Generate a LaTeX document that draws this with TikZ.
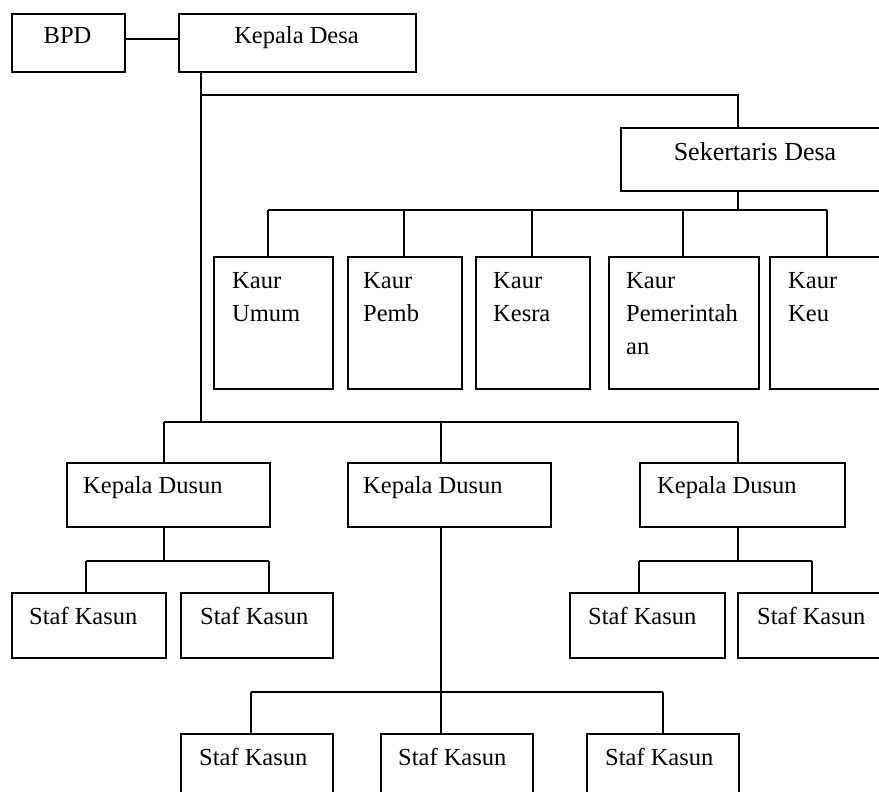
\documentclass[tikz,border=0pt]{standalone}
\usepackage{fontspec}
\setmainfont{Liberation Serif}
\newcommand{\bx}[5]{\node[box, minimum width=#4pt-#2pt, minimum height=#5pt-#3pt] (#1) at (#2,-#3) {};}
\begin{document}
\begin{tikzpicture}[x=1pt,y=1pt,
  box/.style={draw=black, line width=1.6pt, anchor=north west, inner sep=0pt, outer sep=0.8pt},
  lbl/.style={anchor=base west, inner sep=0pt, font=\fontsize{24.5}{33}\selectfont, align=left},
  ctr/.style={anchor=base, inner sep=0pt, font=\fontsize{24.5}{33}\selectfont},
  link/.style={draw=black, line width=1.6pt}]
\useasboundingbox (0,0) rectangle (879,-792);
\fill[white] (0,0) rectangle (879,-792);
\clip (0,0) rectangle (879,-792);
% boxes
\bx{bpd}{11}{13}{124}{71}
\bx{kd}{178}{13}{415}{71}
\bx{sek}{620}{127}{892}{190}
\bx{umum}{213}{256}{332}{388}
\bx{pemb}{347}{256}{461}{388}
\bx{kesra}{475}{256}{589}{388}
\bx{pem}{608}{256}{758}{388}
\bx{keu}{769}{256}{892}{388}
\bx{kd1}{66}{462}{269}{526}
\bx{kd2}{347}{462}{550}{526}
\bx{kd3}{639}{462}{844}{526}
\bx{s1}{11}{592}{165}{657}
\bx{s2}{180}{592}{332}{657}
\bx{s3}{569}{592}{724}{657}
\bx{s4}{737}{592}{892}{657}
\bx{s5}{180}{733}{332}{810}
\bx{s6}{380}{733}{532}{810}
\bx{s7}{586}{733}{738}{810}
% labels (base anchor = baseline of last line)
\node[ctr] (t-bpd) at (67.5,-44) {BPD};
\node[ctr] (t-kd) at (296.5,-44) {Kepala Desa};
\node[ctr, font=\fontsize{26}{33}\selectfont] (t-sek) at (755,-160) {Sekertaris Desa};
\node[lbl] (t-umum) at (232,-321) {Kaur\\Umum};
\node[lbl] (t-pemb) at (363,-321) {Kaur\\Pemb};
\node[lbl] (t-kesra) at (493,-321) {Kaur\\Kesra};
\node[lbl] (t-pem) at (626,-354) {Kaur\\Pemerintah\\an};
\node[lbl] (t-keu) at (788,-321) {Kaur\\Keu};
\node[lbl] (t-kd1) at (83,-493) {Kepala Dusun};
\node[lbl] (t-kd2) at (363,-493) {Kepala Dusun};
\node[lbl] (t-kd3) at (657,-493) {Kepala Dusun};
\node[lbl] (t-s1) at (29,-624) {Staf Kasun};
\node[lbl] (t-s2) at (200,-624) {Staf Kasun};
\node[lbl] (t-s3) at (588,-624) {Staf Kasun};
\node[lbl] (t-s4) at (757,-624) {Staf Kasun};
\node[lbl] (t-s5) at (199,-765) {Staf Kasun};
\node[lbl] (t-s6) at (398,-765) {Staf Kasun};
\node[lbl] (t-s7) at (605,-765) {Staf Kasun};
% junction coordinates
\coordinate (j-bpd) at (150,-39);
\coordinate (t1) at (201,-95);
\coordinate (t2) at (738,-95);
\coordinate (t3) at (201,-422);
\coordinate (k0) at (738,-210);
\coordinate (d-umum) at (268,-210);
\coordinate (d-pemb) at (404,-210);
\coordinate (d-kesra) at (532,-210);
\coordinate (d-pem) at (683,-210);
\coordinate (d-keu) at (827,-210);
\coordinate (d-kd1) at (164,-422);
\coordinate (d-kd2) at (441,-422);
\coordinate (d-kd3) at (738,-422);
\coordinate (d-s1) at (86,-561);
\coordinate (d-s2) at (269,-561);
\coordinate (d-s3) at (639,-561);
\coordinate (d-s4) at (812,-561);
\coordinate (d-s5) at (251,-692);
\coordinate (d-s6) at (441,-692);
\coordinate (d-s7) at (663,-692);
% connectors
\draw[link] (bpd.east |- j-bpd) -- (kd.west |- j-bpd);
\draw[link] (kd.south -| t1) -- (t3);
\draw[link] (t1) -- (t2) -- (sek.north -| t2);
\draw[link] (sek.south -| k0) -- (k0);
\draw[link] (d-umum) -- (d-keu);
\foreach \n in {umum,pemb,kesra,pem,keu} \draw[link] (d-\n) -- (\n.north -| d-\n);
\draw[link] (d-kd1) -- (d-kd3);
\foreach \n in {kd1,kd2,kd3} \draw[link] (d-\n) -- (\n.north -| d-\n);
\draw[link] (kd1.south -| d-kd1) -- (d-kd1 |- d-s1);
\draw[link] (d-s1) -- (d-s2);
\draw[link] (kd3.south -| d-kd3) -- (d-kd3 |- d-s3);
\draw[link] (d-s3) -- (d-s4);
\draw[link] (kd2.south -| d-kd2) -- (d-s6);
\draw[link] (d-s5) -- (d-s7);
\foreach \n in {s1,s2,s3,s4,s5,s6,s7} \draw[link] (d-\n) -- (\n.north -| d-\n);
\end{tikzpicture}
\end{document}
